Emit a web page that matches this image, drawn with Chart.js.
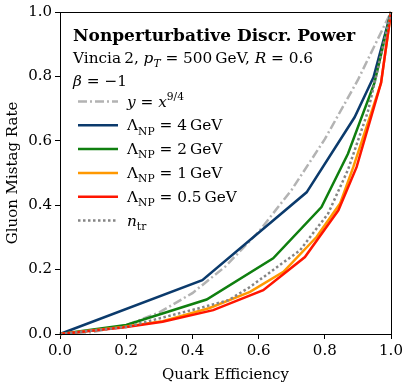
<!DOCTYPE html>
<html>
<head>
<meta charset="utf-8">
<script src="https://cdn.jsdelivr.net/npm/chart.js@4"></script>
<style>
  html, body { margin: 0; padding: 0; background: #fff; }
  #wrap { width: 408px; height: 388px; }
</style>
</head>
<body>
<div id="wrap"><canvas id="chart"></canvas></div>
<script>
// values
const tickVals = [0.0, 0.2, 0.4, 0.6, 0.8, 1.0];

const powX = [0, 0.1, 0.2, 0.3, 0.4, 0.5, 0.6, 0.7, 0.8, 0.9, 1.0];
const powY = [0, 0.006, 0.027, 0.067, 0.127, 0.21, 0.317, 0.448, 0.605, 0.789, 1.0];

const np4X = [0, 0.43, 0.745, 0.89, 0.947, 1.0];
const np4Y = [0, 0.167, 0.44, 0.673, 0.797, 1.0];

const np2X = [0, 0.2, 0.443, 0.644, 0.79, 0.87, 0.95, 1.0];
const np2Y = [0, 0.028, 0.107, 0.235, 0.394, 0.56, 0.78, 1.0];

const np1X = [0, 0.19, 0.31, 0.45, 0.574, 0.675, 0.775, 0.846, 0.886, 0.97, 1.0];
const np1Y = [0, 0.022, 0.04, 0.08, 0.131, 0.193, 0.301, 0.405, 0.518, 0.78, 1.0];

const np05X = [0, 0.19, 0.31, 0.463, 0.614, 0.74, 0.841, 0.896, 0.97, 1.0];
const np05Y = [0, 0.02, 0.038, 0.074, 0.136, 0.239, 0.384, 0.518, 0.78, 1.0];

const ntrX = [0, 0.2, 0.42, 0.509, 0.574, 0.725, 0.81, 0.87, 0.93, 1.0];
const ntrY = [0, 0.022, 0.08, 0.105, 0.146, 0.26, 0.374, 0.51, 0.69, 1.0];

const FONT = '"DejaVu Serif", "Liberation Serif", serif';

function pts(xs, ys) {
    return xs.map((x, i) => ({ x: x, y: ys[i] }));
}

// text runs: t = text, it = italic, sub/sup = small raised/lowered
const headerLines = [
    [{ t: 'Nonperturbative Discr. Power', bold: true }],
    [{ t: 'Vincia\u20092, ' }, { t: 'p', it: true }, { t: 'T', it: true, sub: true },
     { t: ' = 500\u2009GeV, ' }, { t: 'R', it: true }, { t: ' = 0.6' }],
    [{ t: '\u03b2', it: true }, { t: ' = \u22121' }]
];

const series = [
    { label: [{ t: 'y', it: true }, { t: ' = ' }, { t: 'x', it: true }, { t: '9/4', sup: true }],
      xs: powX, ys: powY, color: '#b3b3b3', dash: [9, 3, 2, 3], order: 6 },
    { label: [{ t: '\u039b' }, { t: 'NP', sub: true }, { t: ' = 4\u2009GeV' }],
      xs: np4X, ys: np4Y, color: '#0b3a6c', dash: [], order: 5 },
    { label: [{ t: '\u039b' }, { t: 'NP', sub: true }, { t: ' = 2\u2009GeV' }],
      xs: np2X, ys: np2Y, color: '#0f7f0f', dash: [], order: 4 },
    { label: [{ t: '\u039b' }, { t: 'NP', sub: true }, { t: ' = 1\u2009GeV' }],
      xs: np1X, ys: np1Y, color: '#ff9800', dash: [], order: 3 },
    { label: [{ t: '\u039b' }, { t: 'NP', sub: true }, { t: ' = 0.5\u2009GeV' }],
      xs: np05X, ys: np05Y, color: '#ff1500', dash: [], order: 2 },
    { label: [{ t: 'n', it: true }, { t: 'tr', sub: true }],
      xs: ntrX, ys: ntrY, color: '#858585', dash: [2.5, 2.5], order: 1 }
];

function drawRuns(ctx, x, y, runs, size) {
    runs.forEach(r => {
        const s = (r.sub || r.sup) ? size * 0.7 : size;
        ctx.font = `${r.it ? 'italic ' : ''}${r.bold ? 'bold ' : ''}${s}px ${FONT}`;
        const dy = r.sub ? size * 0.28 : (r.sup ? -size * 0.42 : 0);
        ctx.fillText(r.t, x, y + dy);
        x += ctx.measureText(r.t).width;
    });
}

const overlay = {
    id: 'overlay',
    afterDraw(chart) {
        const ctx = chart.ctx;
        const a = chart.chartArea;
        ctx.save();
        // frame
        ctx.strokeStyle = '#000';
        ctx.lineWidth = 1;
        ctx.strokeRect(a.left + 0.5, a.top + 0.5, a.right - a.left, a.bottom - a.top);

        ctx.fillStyle = '#000';
        ctx.textBaseline = 'alphabetic';
        ctx.textAlign = 'left';
        drawRuns(ctx, 73, 41, headerLines[0], 17);
        drawRuns(ctx, 73, 63, headerLines[1], 15.3);
        drawRuns(ctx, 73, 86, headerLines[2], 15.3);

        series.forEach((s, i) => {
            const cy = 101.5 + i * 23.8;
            ctx.strokeStyle = s.color;
            ctx.lineWidth = 2.5;
            ctx.setLineDash(s.dash);
            ctx.beginPath();
            ctx.moveTo(78, cy);
            ctx.lineTo(118, cy);
            ctx.stroke();
            ctx.setLineDash([]);
            ctx.fillStyle = '#000';
            drawRuns(ctx, 127, cy + 5, s.label, 15.3);
        });
        ctx.restore();
    }
};

const datasets = series.map(s => ({
    data: pts(s.xs, s.ys),
    borderColor: s.color,
    borderWidth: 2.5,
    borderDash: s.dash,
    pointRadius: 0,
    showLine: true,
    fill: false,
    tension: 0,
    clip: 4,
    order: s.order
}));

const tickFont = { family: FONT, size: 15 };

new Chart(document.getElementById('chart'), {
    type: 'scatter',
    data: { datasets: datasets },
    options: {
        responsive: true,
        maintainAspectRatio: false,
        animation: false,
        layout: { padding: { top: 11, right: 17, left: 0, bottom: 0 } },
        plugins: { legend: { display: false }, tooltip: { enabled: false } },
        scales: {
            x: {
                type: 'linear', min: 0, max: 1,
                afterBuildTicks: sc => { sc.ticks = tickVals.map(v => ({ value: v })); },
                afterFit: sc => { sc.height = 54; },
                ticks: { font: tickFont, color: '#000', padding: 3, maxRotation: 0,
                         callback: v => v.toFixed(1) },
                grid: { drawOnChartArea: false, tickLength: 5, color: '#000' },
                border: { color: '#000' },
                title: { display: true, text: 'Quark Efficiency', color: '#000',
                         font: { family: FONT, size: 15 }, padding: { top: 0 } }
            },
            y: {
                type: 'linear', min: 0, max: 1,
                afterBuildTicks: sc => { sc.ticks = tickVals.map(v => ({ value: v })); },
                afterFit: sc => { sc.width = 60; },
                ticks: { font: tickFont, color: '#000', padding: 3,
                         callback: v => v.toFixed(1) },
                grid: { drawOnChartArea: false, tickLength: 5, color: '#000' },
                border: { color: '#000' },
                title: { display: true, text: 'Gluon Mistag Rate', color: '#000',
                         font: { family: FONT, size: 15 }, padding: { bottom: 0 } }
            }
        }
    },
    plugins: [overlay]
});
</script>
</body>
</html>
